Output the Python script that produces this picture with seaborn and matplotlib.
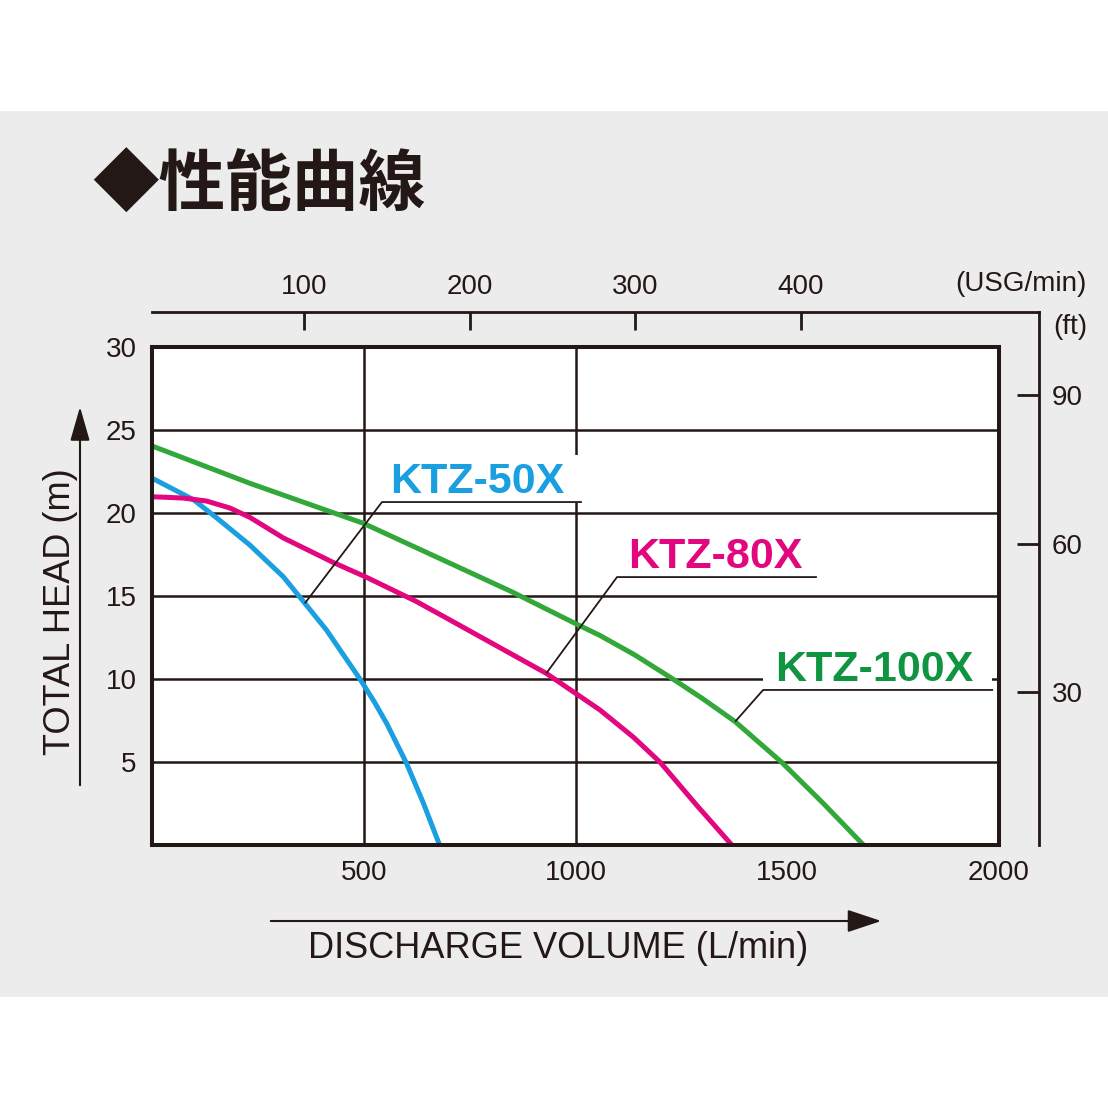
import numpy as np
import pandas as pd
import seaborn as sns
import matplotlib.pyplot as plt
from matplotlib.patches import Rectangle, FancyArrowPatch

# performance curves: discharge volume (L/min) vs total head (m)
q_50 = [0, 98, 153, 231, 310, 361, 412, 491, 525, 554, 601, 641, 679]
h_50 = [22.1, 20.8, 19.7, 18.07, 16.16, 14.56, 12.95, 10.0, 8.62, 7.33, 4.92, 2.51, 0]
q_80 = [0, 74, 129, 184, 231, 310, 428, 507, 625, 704, 931, 1058, 1137, 1200, 1286, 1369]
h_80 = [20.98, 20.9, 20.72, 20.3, 19.74, 18.5, 17.02, 16.12, 14.66, 13.55, 10.34, 8.13,
        6.49, 4.98, 2.4, 0]
q_100 = [0, 231, 499, 704, 850, 1003, 1058, 1140, 1230, 1300, 1377, 1487, 1585, 1680]
h_100 = [24.04, 21.79, 19.38, 16.97, 15.25, 13.3, 12.62, 11.45, 10.0, 8.82, 7.43, 4.98, 2.51, 0]

models = ["KTZ-50X", "KTZ-80X", "KTZ-100X"]
x_ticks = [500, 1000, 1500, 2000]
y_ticks = [5, 10, 15, 20, 25, 30]
usg_ticks = [100, 200, 300, 400]
ft_ticks = [30, 60, 90]
vgrid = [500, 1000]
hgrid = [5, 10, 15, 20, 25]

line_colors = {"KTZ-50X": "#1a9fe0", "KTZ-80X": "#e2067f", "KTZ-100X": "#33a83a"}
text_colors = {"KTZ-50X": "#1a9fe0", "KTZ-80X": "#e2067f", "KTZ-100X": "#0f9440"}
ink = "#231815"

# label placement: text centre x, baseline y, underline y, underline x-range,
# leader target x, white knock-out box (x0, x1, y0, y1) behind the label
labels = {
    "KTZ-50X": dict(tx=769, ty=21.2, uy=20.66, ux=(543, 1015), qx=361,
                    box=(531, 1015, 20.66, 23.5)),
    "KTZ-80X": dict(tx=1329, ty=16.69, uy=16.14, ux=(1098, 1570), qx=931, box=None),
    "KTZ-100X": dict(tx=1705, ty=9.88, uy=9.34, ux=(1443, 1986), qx=1377,
                     box=(1443, 1983, 9.34, 11.9)),
}

df = pd.concat([
    pd.DataFrame({"q": q_50, "h": h_50, "model": "KTZ-50X"}),
    pd.DataFrame({"q": q_80, "h": h_80, "model": "KTZ-80X"}),
    pd.DataFrame({"q": q_100, "h": h_100, "model": "KTZ-100X"}),
])
curves = {"KTZ-50X": (q_50, h_50), "KTZ-80X": (q_80, h_80), "KTZ-100X": (q_100, h_100)}

sns.set_theme(style="white")
plt.rcParams["font.family"] = ["Liberation Sans", "DejaVu Sans"]

W, H = 1108, 1108
fig = plt.figure(figsize=(W / 100, H / 100), dpi=100, facecolor="white")
fig.patches.append(Rectangle((0, 1 - 997 / H), 1, (997 - 111) / H, transform=fig.transFigure,
                             facecolor="#ececec", edgecolor="none", zorder=-10))

# outer frame: USG/min on top, ft on the right
ax2 = fig.add_axes([152 / W, 1 - 845 / H, 887 / W, 533 / H], facecolor="none")
ax2.set_xlim(8.25, 543.7)
ax2.set_ylim(-0.8, 106.7)
for side in ["left", "bottom"]:
    ax2.spines[side].set_visible(False)
for side in ["top", "right"]:
    ax2.spines[side].set_linewidth(2.0)
    ax2.spines[side].set_color(ink)
ax2.set_xticks(usg_ticks)
ax2.set_yticks(ft_ticks)
ax2.tick_params(axis="x", top=True, bottom=False, labeltop=True, labelbottom=False,
                direction="in", length=13, width=2, color=ink, pad=9, labelsize=20, labelcolor=ink)
ax2.tick_params(axis="y", right=True, left=False, labelright=True, labelleft=False,
                direction="in", length=16, width=2, color=ink, pad=9, labelsize=20, labelcolor=ink)

# main chart
ax = fig.add_axes([152 / W, 1 - 845 / H, 847 / W, 498 / H], facecolor="white")
for v in vgrid:
    ax.axvline(v, color=ink, lw=1.8, zorder=1)
for v in hgrid:
    ax.axhline(v, color=ink, lw=1.8, zorder=1)

sns.lineplot(data=df, x="q", y="h", hue="model", palette=line_colors, hue_order=models,
             estimator=None, sort=False, lw=3.6, legend=False, ax=ax, zorder=3,
             solid_joinstyle="round")

ax.set_xlim(0, 2000)
ax.set_ylim(0, 30)
ax.set_xticks(x_ticks)
ax.set_yticks(y_ticks)
ax.set_xlabel("")
ax.set_ylabel("")
ax.tick_params(length=0, pad=11, labelsize=20, labelcolor=ink)
for s in ax.spines.values():
    s.set_linewidth(2.9)
    s.set_color(ink)
    s.set_zorder(6)

for name in models:
    p = labels[name]
    if p["box"] is not None:
        x0, x1, y0, y1 = p["box"]
        ax.add_patch(Rectangle((x0, y0), x1 - x0, y1 - y0, facecolor="white",
                               edgecolor="none", zorder=2))
    ax.text(p["tx"], p["ty"], name, color=text_colors[name], fontsize=31, fontweight="bold",
            ha="center", va="baseline", zorder=4)
    qs, hs = curves[name]
    yq = np.interp(p["qx"], qs, hs)
    ax.plot([p["qx"], p["ux"][0], p["ux"][1]], [yq, p["uy"], p["uy"]],
            color=ink, lw=1.3, zorder=5, solid_capstyle="butt")

# title and axis captions
fig.text(92 / W, 1 - 186 / H, "◆性能曲線", fontsize=48, fontweight="bold",
         family=["Noto Sans CJK JP", "DejaVu Sans"], color=ink, ha="left", va="center")
fig.text(1087 / W, 1 - 284 / H, "(USG/min)", fontsize=20, color=ink, ha="right", va="center")
fig.text(1087 / W, 1 - 327 / H, "(ft)", fontsize=20, color=ink, ha="right", va="center")
fig.text(70 / W, 1 - 612 / H, "TOTAL HEAD (m)", fontsize=26, color=ink, rotation=90,
         rotation_mode="anchor", ha="center", va="baseline")
fig.text(558 / W, 1 - 958 / H, "DISCHARGE VOLUME (L/min)", fontsize=26, color=ink,
         ha="center", va="baseline")

fig.add_artist(FancyArrowPatch((80 / W, 1 - 788 / H), (80 / W, 1 - 404 / H), transform=fig.transFigure,
                               arrowstyle="-|>,head_length=2.1,head_width=0.6", mutation_scale=10,
                               lw=1.5, color=ink))
fig.add_artist(FancyArrowPatch((268 / W, 1 - 921 / H), (884 / W, 1 - 921 / H), transform=fig.transFigure,
                               arrowstyle="-|>,head_length=2.1,head_width=0.7", mutation_scale=10,
                               lw=1.5, color=ink))

fig.savefig("out.png", dpi=100, facecolor="white")
